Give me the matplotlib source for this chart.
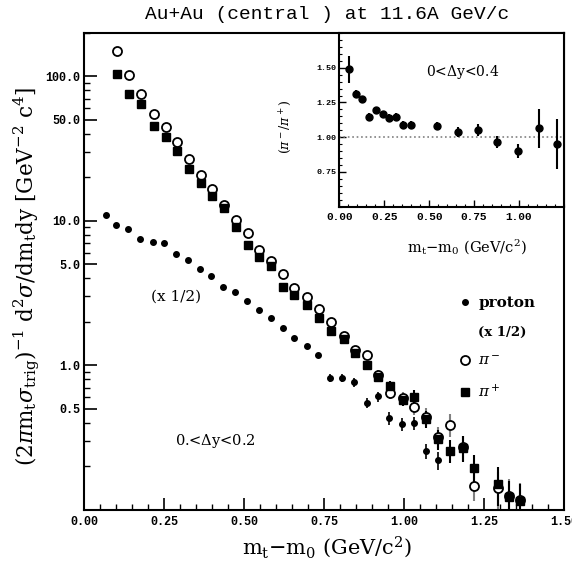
import numpy as np
import matplotlib
matplotlib.use('Agg')
import matplotlib.pyplot as plt
from matplotlib.lines import Line2D
from matplotlib.ticker import FixedLocator, MultipleLocator, LogLocator, NullFormatter, FormatStrFormatter

plt.rcParams['font.family'] = 'DejaVu Serif'
plt.rcParams['mathtext.fontset'] = 'dejavuserif'

# pion spectra (pi- open circles, pi+ filled squares), 0 < dy < 0.2
pion_mt = [0.102, 0.140, 0.177, 0.217, 0.255, 0.288, 0.326, 0.363, 0.400, 0.436,
           0.474, 0.511, 0.547, 0.583, 0.620, 0.656, 0.696, 0.734, 0.770, 0.811,
           0.846, 0.883, 0.919, 0.957, 0.995, 1.031, 1.069, 1.106, 1.144, 1.183,
           1.219, 1.293, 1.328, 1.363]
pim_y = [150, 103, 76, 55.3, 44.3, 34.9, 27.0, 20.8, 16.6, 12.8,
         10.2, 8.23, 6.24, 5.27, 4.31, 3.44, 2.98, 2.43, 2.0, 1.58,
         1.28, 1.17, 0.86, 0.641, 0.59, 0.51, 0.44, 0.32, 0.388, 0.27,
         0.146, 0.14, 0.125, 0.117]
pip_y = [104, 76, 64.8, 45.4, 38.1, 30.6, 22.9, 18.2, 14.8, 12.2,
         9.06, 6.83, 5.62, 4.87, 3.49, 3.05, 2.61, 2.11, 1.72, 1.52,
         1.21, 1.0, 0.83, 0.713, 0.577, 0.598, 0.425, 0.306, 0.256, 0.268,
         0.195, 0.151, 0.122, 0.115]
pion_relerr = [0.03, 0.03, 0.03, 0.03, 0.03, 0.03, 0.03, 0.03, 0.03, 0.03,
               0.03, 0.03, 0.03, 0.03, 0.03, 0.03, 0.03, 0.03, 0.03, 0.05,
               0.06, 0.07, 0.08, 0.09, 0.10, 0.12, 0.14, 0.16, 0.18, 0.20,
               0.22, 0.30, 0.30, 0.30]

# proton spectrum (x 1/2)
prot_mt = [0.066, 0.100, 0.137, 0.173, 0.214, 0.250, 0.287, 0.324, 0.361, 0.397,
           0.433, 0.471, 0.507, 0.545, 0.583, 0.620, 0.656, 0.696, 0.732, 0.769,
           0.807, 0.844, 0.883, 0.919, 0.953, 0.993, 1.031, 1.068, 1.106]
prot_y = [10.9, 9.29, 8.81, 7.52, 7.13, 7.05, 5.92, 5.38, 4.61, 4.13,
          3.49, 3.21, 2.77, 2.40, 2.13, 1.82, 1.55, 1.36, 1.18, 0.813,
          0.813, 0.763, 0.547, 0.608, 0.431, 0.389, 0.398, 0.254, 0.219]
prot_relerr = [0.02, 0.02, 0.02, 0.02, 0.02, 0.02, 0.02, 0.02, 0.02, 0.02,
               0.02, 0.02, 0.02, 0.02, 0.02, 0.02, 0.02, 0.02, 0.02, 0.06,
               0.06, 0.07, 0.08, 0.08, 0.10, 0.10, 0.10, 0.12, 0.14]

# inset: pi-/pi+ ratio, 0 < dy < 0.4
ratio_mt = [0.054, 0.091, 0.128, 0.165, 0.204, 0.241, 0.278, 0.315, 0.356, 0.397,
            0.544, 0.658, 0.769, 0.880, 0.994, 1.109, 1.213]
ratio_y = [1.488, 1.314, 1.274, 1.148, 1.195, 1.164, 1.140, 1.148, 1.088, 1.088,
           1.081, 1.036, 1.052, 0.964, 0.902, 1.064, 0.950]
ratio_err = [0.10, 0.025, 0.025, 0.025, 0.025, 0.025, 0.025, 0.025, 0.03, 0.03,
             0.03, 0.035, 0.04, 0.045, 0.05, 0.14, 0.18]

mono = 'Liberation Mono'
mt_label = r'm$_\mathregular{t}$$-$m$_\mathregular{0}$ (GeV/c$^\mathregular{2}$)'

fig = plt.figure(figsize=(5.72, 5.63), dpi=100)
ax = fig.add_axes([0.1477, 0.095, 0.8383, 0.8464])
ax.set_yscale('log')

py = np.array(prot_y)
ax.errorbar(prot_mt, py, yerr=py * np.array(prot_relerr), fmt='o', ms=4,
            color='black', elinewidth=1.2, capsize=0)
my = np.array(pim_y)
ax.errorbar(pion_mt, my, yerr=my * np.array(pion_relerr), fmt='o', ms=6.5,
            mfc='white', mec='black', mew=1.3, color='gray', elinewidth=1.5, capsize=0)
pp = np.array(pip_y)
ax.errorbar(pion_mt, pp, yerr=pp * np.array(pion_relerr), fmt='s', ms=6,
            color='black', elinewidth=1.5, capsize=0)

ax.set_xlim(0, 1.5)
ax.set_ylim(0.1, 200)
ax.xaxis.set_major_locator(MultipleLocator(0.25))
ax.xaxis.set_minor_locator(MultipleLocator(0.05))
ax.xaxis.set_major_formatter(FormatStrFormatter('%.2f'))
ax.yaxis.set_major_locator(FixedLocator([0.5, 1, 5, 10, 50, 100]))
ax.yaxis.set_minor_locator(LogLocator(base=10, subs=(2, 3, 4, 6, 7, 8, 9)))
ax.yaxis.set_major_formatter(FormatStrFormatter('%.1f'))
ax.yaxis.set_minor_formatter(NullFormatter())
ax.tick_params(which='both', direction='in', top=False, right=False)
ax.tick_params(which='major', length=9, width=1.2, labelsize=8.5)
ax.tick_params(which='minor', length=4.5, width=1.0)
ax.tick_params(axis='x', pad=5)
ax.tick_params(axis='y', pad=3)
for lbl in ax.get_xticklabels() + ax.get_yticklabels():
    lbl.set_family(mono)
    lbl.set_weight('bold')
for sp in ax.spines.values():
    sp.set_linewidth(1.5)

ax.set_xlabel(mt_label, fontsize=15)
ax.xaxis.set_label_coords(0.505, -0.052)
ax.set_ylabel(r'(2$\pi$m$_\mathregular{t}$$\sigma_\mathregular{trig}$)$^\mathregular{-1}$ '
              r'd$^\mathregular{2}$$\sigma$/dm$_\mathregular{t}$dy [GeV$^\mathregular{-2}$ c$^\mathregular{4}$]',
              fontsize=15.5)
ax.yaxis.set_label_coords(-0.088, 0.49)

ax.text(0.286, 3.0, '(x 1/2)', fontsize=11, ha='center', va='center')
ax.text(0.41, 0.30, r'0.<$\Delta$y<0.2', fontsize=10.5, ha='center', va='center')

handles = [Line2D([], [], ls='none', marker='o', ms=4, color='black'),
           Line2D([], [], ls='none'),
           Line2D([], [], ls='none', marker='o', ms=6.5, mfc='white', mec='black', mew=1.3),
           Line2D([], [], ls='none', marker='s', ms=6, color='black')]
labels = ['proton', '(x 1/2)', r'$\pi^-$', r'$\pi^+$']
leg = ax.legend(handles, labels, loc='upper left', bbox_to_anchor=(0.78, 0.448),
                frameon=False, borderpad=0, borderaxespad=0, handlelength=0.8,
                handletextpad=0.5, labelspacing=1.0, prop={'size': 11, 'weight': 'bold'})
leg.get_texts()[1].set_fontsize(9.5)

fig.text(0.572, 0.975, 'Au+Au (central ) at 11.6A GeV/c', family=mono,
         fontsize=14, ha='center', va='center')

# inset
ins = fig.add_axes([0.5932, 0.6329, 0.3928, 0.3085])
ins.axhline(1.0, color='gray', ls=':', lw=1.2)
ins.errorbar(ratio_mt, ratio_y, yerr=ratio_err, xerr=0.012, fmt='o', ms=5,
             color='black', elinewidth=1.5, capsize=0)
ins.set_xlim(0, 1.25)
ins.set_ylim(0.5, 1.75)
ins.xaxis.set_major_locator(FixedLocator([0, 0.25, 0.5, 0.75, 1.0]))
ins.xaxis.set_minor_locator(MultipleLocator(0.05))
ins.xaxis.set_major_formatter(FormatStrFormatter('%.2f'))
ins.yaxis.set_major_locator(FixedLocator([0.75, 1.0, 1.25, 1.5]))
ins.yaxis.set_minor_locator(MultipleLocator(0.05))
ins.yaxis.set_major_formatter(FormatStrFormatter('%.2f'))
ins.tick_params(which='both', direction='in', top=False, right=False)
ins.tick_params(which='major', length=5, width=1.0)
ins.tick_params(which='minor', length=2.5, width=0.8)
ins.tick_params(axis='x', labelsize=8, pad=4)
ins.tick_params(axis='y', labelsize=6, pad=2)
for lbl in ins.get_xticklabels() + ins.get_yticklabels():
    lbl.set_family(mono)
    lbl.set_weight('bold')
for sp in ins.spines.values():
    sp.set_linewidth(1.5)
ins.set_xlabel(mt_label, fontsize=10.5)
ins.xaxis.set_label_coords(0.569, -0.18)
ins.set_ylabel(r'($\pi^-$/$\pi^+$)', fontsize=9)
ins.yaxis.set_label_coords(-0.2, 0.46)
ins.text(0.55, 0.777, r'0<$\Delta$y<0.4', transform=ins.transAxes, fontsize=10,
         ha='center', va='center')

fig.savefig('out.png', dpi=100)
